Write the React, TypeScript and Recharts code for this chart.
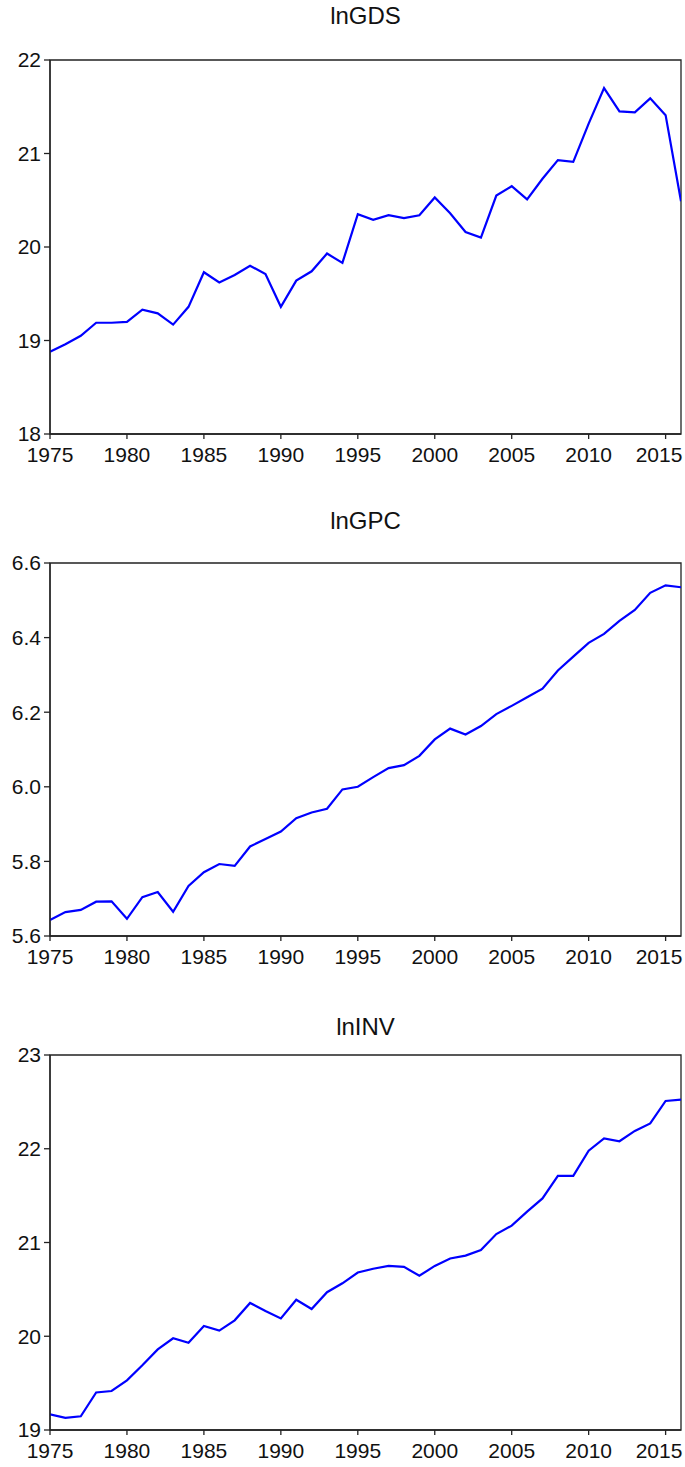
import React from 'react';
import { LineChart, Line, XAxis, YAxis, ReferenceArea } from 'recharts';

const years = [
    1975, 1976, 1977, 1978, 1979, 1980, 1981, 1982, 1983, 1984,
    1985, 1986, 1987, 1988, 1989, 1990, 1991, 1992, 1993, 1994,
    1995, 1996, 1997, 1998, 1999, 2000, 2001, 2002, 2003, 2004,
    2005, 2006, 2007, 2008, 2009, 2010, 2011, 2012, 2013, 2014,
    2015, 2016,
];

const lnGDS = [
    18.88, 18.96, 19.05, 19.19, 19.19, 19.2, 19.33, 19.29, 19.17, 19.36,
    19.73, 19.62, 19.7, 19.8, 19.71, 19.36, 19.64, 19.74, 19.93, 19.83,
    20.35, 20.29, 20.34, 20.31, 20.34, 20.53, 20.36, 20.16, 20.1, 20.55,
    20.65, 20.51, 20.73, 20.93, 20.91, 21.32, 21.7, 21.45, 21.44, 21.59,
    21.41, 20.49,
];

const lnGPC = [
    5.643, 5.664, 5.67, 5.692, 5.693, 5.646, 5.704, 5.718, 5.665, 5.734,
    5.771, 5.793, 5.788, 5.84, 5.86, 5.88, 5.916, 5.931, 5.941, 5.993,
    6.0, 6.026, 6.05, 6.058, 6.083, 6.127, 6.156, 6.14, 6.163, 6.195,
    6.217, 6.24, 6.263, 6.312, 6.349, 6.386, 6.41, 6.445, 6.474, 6.52,
    6.54, 6.535,
];

const lnINV = [
    19.167, 19.13, 19.146, 19.4, 19.416, 19.53, 19.69, 19.86, 19.978, 19.93,
    20.11, 20.06, 20.17, 20.355, 20.27, 20.19, 20.39, 20.29, 20.47, 20.565,
    20.68, 20.72, 20.75, 20.74, 20.645, 20.75, 20.83, 20.86, 20.92, 21.09,
    21.18, 21.33, 21.47, 21.71, 21.71, 21.98, 22.11, 22.08, 22.19, 22.27,
    22.51, 22.525,
];

const xTicks = [1975, 1980, 1985, 1990, 1995, 2000, 2005, 2010, 2015];
const gdsTicks = [18, 19, 20, 21, 22];
const gpcTicks = [5.6, 5.8, 6.0, 6.2, 6.4, 6.6];
const invTicks = [19, 20, 21, 22, 23];

const FONT = '"Liberation Sans", Arial, sans-serif';
const AXIS = '#222';
const TICK_FS = 21;

// keeps the last year label inside the page, like the original which is flush with the edge
const YearTick = (props: any) => {
    const { x, y, payload } = props;
    const half = 25;
    const cx = Math.min(x, 684 - half);
    return (
        <text x={cx} y={y} dy="0.71em" textAnchor="middle" fill="#111" fontSize={TICK_FS} fontFamily={FONT}>
            {payload.value}
        </text>
    );
};

interface PanelProps {
    title: string;
    values: number[];
    ticks: number[];
    decimals: number;
    plotTop: number;
    plotHeight: number;
    titleY: number;
}

function Panel({ title, values, ticks, decimals, plotTop, plotHeight, titleY }: PanelProps) {
    const data = years.map((year, i) => ({ year, value: values[i] }));
    const lo = ticks[0];
    const hi = ticks[ticks.length - 1];
    const marginTop = 20;
    const axisH = 44;

    return (
        <>
            <div
                style={{
                    position: 'absolute',
                    left: 50,
                    width: 631,
                    top: titleY - 14,
                    textAlign: 'center',
                    fontFamily: FONT,
                    fontSize: 24,
                    lineHeight: '28px',
                    color: '#111',
                }}
            >
                {title}
            </div>
            <div style={{ position: 'absolute', left: 0, top: plotTop - marginTop }}>
                <LineChart
                    width={685}
                    height={plotHeight + marginTop + axisH}
                    data={data}
                    margin={{ top: marginTop, right: 4, bottom: 0, left: 0 }}
                >
                    <XAxis
                        dataKey="year"
                        type="number"
                        domain={[1975, 2016]}
                        ticks={xTicks}
                        height={axisH}
                        tickSize={5}
                        tickMargin={8}
                        stroke={AXIS}
                        strokeWidth={1.3}
                        tick={<YearTick />}
                        interval={0}
                        allowDataOverflow
                    />
                    <YAxis
                        type="number"
                        domain={[lo, hi]}
                        ticks={ticks}
                        width={50}
                        tickSize={6}
                        tickMargin={3}
                        stroke={AXIS}
                        strokeWidth={1.3}
                        tick={{ fill: '#111', fontSize: TICK_FS, fontFamily: FONT }}
                        tickFormatter={(v: number) => v.toFixed(decimals)}
                        interval={0}
                        allowDataOverflow
                    />
                    <ReferenceArea
                        x1={1975}
                        x2={2016}
                        y1={lo}
                        y2={hi}
                        fill="none"
                        stroke={AXIS}
                        strokeWidth={1.3}
                    />
                    <Line
                        type="linear"
                        dataKey="value"
                        stroke="#0000FF"
                        strokeWidth={2.2}
                        dot={false}
                        isAnimationActive={false}
                    />
                </LineChart>
            </div>
        </>
    );
}

export default function App() {
    return (
        <div style={{ position: 'absolute', left: 0, top: 0, width: 685, height: 1467, background: '#fff' }}>
            <Panel title="lnGDS" values={lnGDS} ticks={gdsTicks} decimals={0} plotTop={60} plotHeight={374} titleY={16} />
            <Panel title="lnGPC" values={lnGPC} ticks={gpcTicks} decimals={1} plotTop={563} plotHeight={373} titleY={521} />
            <Panel title="lnINV" values={lnINV} ticks={invTicks} decimals={0} plotTop={1055} plotHeight={375} titleY={1027} />
        </div>
    );
}
